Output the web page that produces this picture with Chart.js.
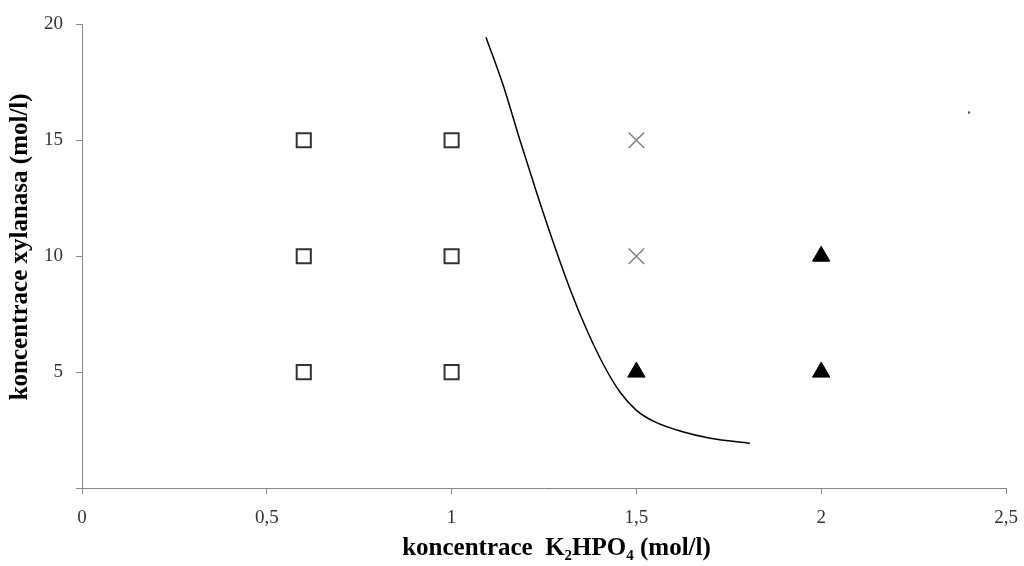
<!DOCTYPE html>
<html><head><meta charset="utf-8">
<script src="https://cdn.jsdelivr.net/npm/chart.js@4"></script>
<style>html,body{margin:0;padding:0;background:#fff}#wrap{width:1024px;height:566px}</style>
</head><body><div id="wrap"><canvas id="c" width="1024" height="566"></canvas></div>
<script>
const squaresX = [0.6, 0.6, 0.6, 1, 1, 1];
const squaresY = [15, 10, 5, 15, 10, 5];
const crossesX = [1.5, 1.5];
const crossesY = [15, 10];
const trianglesX = [1.5, 2, 2];
const trianglesY = [5, 5, 10];
const curveX = [1.093, 1.140, 1.185, 1.230, 1.275, 1.320, 1.365, 1.410, 1.455, 1.500, 1.550, 1.620, 1.700, 1.807];
const curveY = [19.45, 17.35, 15.0, 12.75, 10.6, 8.6, 6.85, 5.35, 4.15, 3.35, 2.85, 2.45, 2.15, 1.93];
const strayX = [2.4];
const strayY = [16.2];
const xTicks = [0, 0.5, 1, 1.5, 2, 2.5];
const yTicks = [0, 5, 10, 15, 20];

const pts = (xs, ys) => xs.map((x, i) => ({x, y: ys[i]}));
const serif = '"Liberation Serif", "DejaVu Serif", serif';

new Chart(document.getElementById('c'), {
  type: 'scatter',
  data: {
    datasets: [
      {data: pts(curveX, curveY), showLine: true, pointRadius: 0, borderColor: '#000', borderWidth: 1.5, cubicInterpolationMode: 'monotone', fill: false},
      {data: pts(squaresX, squaresY), pointStyle: 'rect', pointRadius: 10, pointBorderWidth: 2, borderColor: '#333', backgroundColor: '#fff'},
      {data: pts(crossesX, crossesY), pointStyle: 'crossRot', pointRadius: 11, pointBorderWidth: 1.5, borderColor: '#808080', backgroundColor: '#808080'},
      {data: pts(trianglesX, trianglesY), pointStyle: 'triangle', pointRadius: 10, pointBorderWidth: 1, borderColor: '#000', backgroundColor: '#000'},
      {data: pts(strayX, strayY), pointStyle: 'circle', pointRadius: 1.2, pointBorderWidth: 0, borderColor: '#555', backgroundColor: '#555'}
    ]
  },
  options: {
    responsive: false,
    animation: false,
    layout: {padding: {left: 0, right: 0, top: 24, bottom: 0}},
    plugins: {legend: {display: false}, tooltip: {enabled: false}},
    scales: {
      x: {
        type: 'linear', min: 0, max: 2.5,
        afterBuildTicks: s => { s.ticks = xTicks.map(v => ({value: v})); },
        afterFit: s => { s.height = 78; s.paddingRight = 18; s.paddingLeft = 0; },
        grid: {display: true, drawOnChartArea: false, drawTicks: true, tickLength: 6, color: '#868686'},
        border: {color: '#868686', width: 1},
        ticks: {color: '#333', font: {family: serif, size: 19}, padding: 13, maxRotation: 0,
          callback: v => String(v).replace('.', ',')},
        title: {display: true, text: '    koncentrace  K\u2082HPO\u2084 (mol/l)', color: '#000',
          font: {family: serif, size: 25, weight: 'bold'}, padding: {top: 3, bottom: 2}}
      },
      y: {
        type: 'linear', min: 0, max: 20,
        afterBuildTicks: s => { s.ticks = yTicks.map(v => ({value: v})); },
        afterFit: s => { s.width = 82; },
        grid: {display: true, drawOnChartArea: false, drawTicks: true, tickLength: 6, color: '#868686'},
        border: {color: '#868686', width: 1},
        ticks: {color: '#333', font: {family: serif, size: 19}, padding: 13,
          callback: v => v === 0 ? '' : String(v)},
        title: {display: true, text: '   koncentrace xylanasa (mol/l)', color: '#000',
          font: {family: serif, size: 25, weight: 'bold'}, padding: {top: 6, bottom: 4}}
      }
    }
  }
});
</script>
</body></html>
